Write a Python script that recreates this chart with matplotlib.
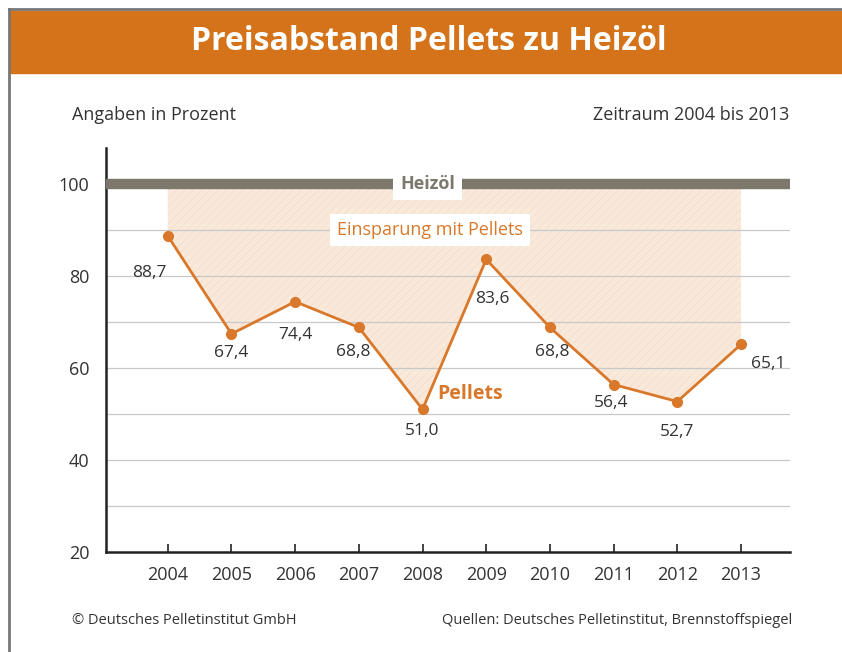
import matplotlib
matplotlib.use("Agg")
import matplotlib.pyplot as plt
from matplotlib.patches import Rectangle
from matplotlib.lines import Line2D

plt.rcParams["font.family"] = ["Open Sans", "DejaVu Sans"]
plt.rcParams["hatch.linewidth"] = 0.5

# Daten
jahre    = [2004, 2005, 2006, 2007, 2008, 2009, 2010, 2011, 2012, 2013]
pellets  = [88.7, 67.4, 74.4, 68.8, 51.0, 83.6, 68.8, 56.4, 52.7, 65.1]
heizoel  = 100
labels   = ["88,7", "67,4", "74,4", "68,8", "51,0", "83,6", "68,8", "56,4", "52,7", "65,1"]
y_ticks  = [20, 40, 60, 80, 100]
grid_y   = [30, 40, 50, 60, 70, 80, 90]

# Offsets der Wertelabels in Pixel (dx, dy)
offsets = [(-18, -37), (0, -19), (0, -33), (-6, -25), (0, -22),
           (6, -40), (2, -25), (-2, -18), (0, -30), (27, -20)]

ORANGE  = "#d9782a"
HEADER  = "#d4731a"
GRAU    = "#7d786c"
TEXT    = "#333333"

fig = plt.figure(figsize=(8.42, 6.52), dpi=100)
fig.patch.set_facecolor("white")

# Rahmen + Kopfzeile
fig.add_artist(Line2D([9/842, 1], [1-9/652, 1-9/652], color="#777777", lw=2))
fig.add_artist(Line2D([9/842, 9/842], [0, 1-9/652], color="#777777", lw=2))
fig.add_artist(Rectangle((10/842, 1-73/652), 1, 62/652, color=HEADER,
                         transform=fig.transFigure, zorder=0))
fig.text(429/842, 1-42/652, "Preisabstand Pellets zu Heizöl", color="white",
         fontsize=23, fontweight="bold", ha="center", va="center")
fig.text(72/842, 1-115/652, "Angaben in Prozent", fontsize=13, color=TEXT,
         ha="left", va="center")
fig.text(789/842, 1-115/652, "Zeitraum 2004 bis 2013", fontsize=13, color=TEXT,
         ha="right", va="center")
fig.text(72/842, 1-620/652, "© Deutsches Pelletinstitut GmbH", fontsize=10.5,
         color=TEXT, ha="left", va="center")
fig.text(792/842, 1-620/652, "Quellen: Deutsches Pelletinstitut, Brennstoffspiegel",
         fontsize=10.5, color=TEXT, ha="right", va="center")

ax = fig.add_axes([106/842, 1-552/652, 684/842, 404/652])
ax.set_xlim(2003.03, 2013.77)
ax.set_ylim(20, 107.8)

for g in grid_y:
    ax.axhline(g, color="#c8c8c8", lw=0.9, zorder=2)

ax.fill_between(jahre, pellets, heizoel, facecolor="#f9e9db", edgecolor="#f4dcc6",
                hatch="////", lw=0, zorder=1)

ax.axhline(heizoel, color=GRAU, lw=7.5, zorder=3, solid_capstyle="butt")
ax.text(2008.08, heizoel, "Heizöl", color=GRAU, fontsize=13, fontweight="bold",
        ha="center", va="center", zorder=4,
        bbox=dict(facecolor="white", edgecolor="none", pad=5))
ax.text(2008.12, 90, "Einsparung mit Pellets", color=ORANGE, fontsize=13,
        ha="center", va="center", zorder=4,
        bbox=dict(facecolor="white", edgecolor="none", pad=5))

ax.plot(jahre, pellets, color=ORANGE, lw=2, marker="o", ms=7, zorder=5)
for x, y, lab, (dx, dy) in zip(jahre, pellets, labels, offsets):
    ax.annotate(lab, (x, y), textcoords="offset pixels", xytext=(dx, dy),
                ha="center", va="center", fontsize=12.5, color=TEXT, zorder=6)
ax.text(2008.74, 54.3, "Pellets", color=ORANGE, fontsize=14, fontweight="bold",
        ha="center", va="center", zorder=6)

ax.set_xticks(jahre)
ax.set_xticklabels([str(j) for j in jahre], fontsize=13, color=TEXT)
ax.set_yticks(y_ticks)
ax.set_yticklabels([str(v) for v in y_ticks], fontsize=13, color=TEXT)
ax.tick_params(axis="x", direction="in", length=6, width=1.2, pad=10, color="#222222")
ax.tick_params(axis="y", length=0, pad=12)
for s in ["top", "right"]:
    ax.spines[s].set_visible(False)
for s in ["left", "bottom"]:
    ax.spines[s].set_linewidth(1.8)
    ax.spines[s].set_color("#222222")

fig.savefig("out.png", dpi=100, facecolor="white")
